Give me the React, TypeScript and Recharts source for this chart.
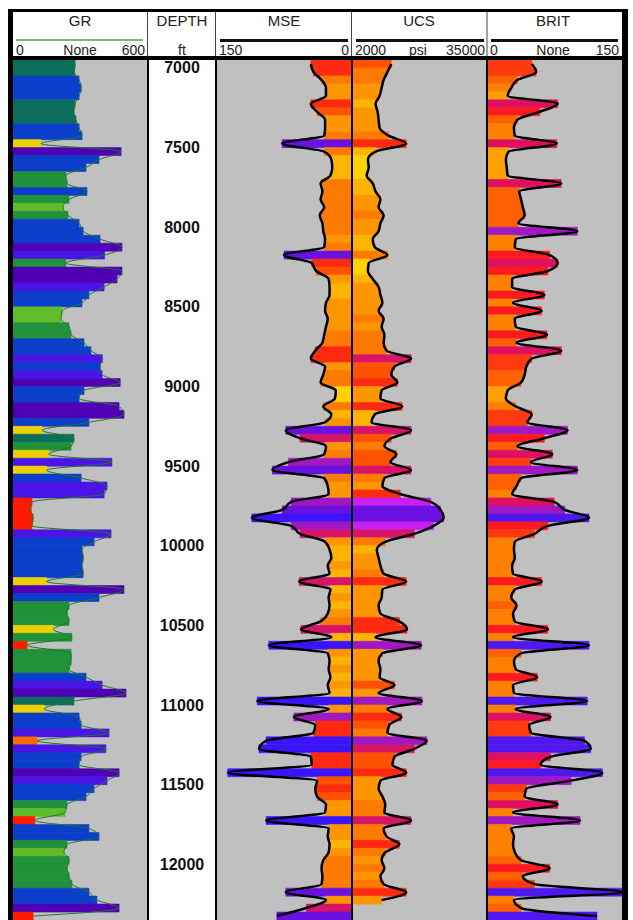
import { Bar, Cell, ComposedChart, Line, LineChart, XAxis, YAxis } from "recharts";

// depth rows (top of each 50 ft sample)
const ROW_DEPTHS = [
  6950, 7000, 7050, 7100, 7150, 7200, 7250, 7300, 7350, 7400,
  7450, 7500, 7550, 7600, 7650, 7700, 7750, 7800, 7850, 7900,
  7950, 8000, 8050, 8100, 8150, 8200, 8250, 8300, 8350, 8400,
  8450, 8500, 8550, 8600, 8650, 8700, 8750, 8800, 8850, 8900,
  8950, 9000, 9050, 9100, 9150, 9200, 9250, 9300, 9350, 9400,
  9450, 9500, 9550, 9600, 9650, 9700, 9750, 9800, 9850, 9900,
  9950, 10000, 10050, 10100, 10150, 10200, 10250, 10300, 10350, 10400,
  10450, 10500, 10550, 10600, 10650, 10700, 10750, 10800, 10850, 10900,
  10950, 11000, 11050, 11100, 11150, 11200, 11250, 11300, 11350, 11400,
  11450, 11500, 11550, 11600, 11650, 11700, 11750, 11800, 11850, 11900,
  11950, 12000, 12050, 12100, 12150, 12200, 12250, 12300,
];

const GR = [
  278, 275, 296, 305, 296, 278, 273, 282, 296, 309,
  125, 484, 385, 327, 237, 242, 331, 251, 224, 246,
  296, 314, 390, 488, 410, 237, 488, 466, 408, 340,
  309, 220, 215, 251, 260, 318, 349, 400, 390, 399,
  480, 318, 296, 475, 497, 340, 130, 273, 260, 160,
  443, 150, 305, 421, 408, 85, 80, 90, 85, 439,
  363, 309, 314, 309, 314, 150, 497, 385, 251, 242,
  251, 180, 264, 63, 260, 260, 251, 327, 399, 506,
  273, 140, 296, 305, 430, 108, 416, 305, 296, 475,
  421, 363, 327, 242, 233, 98, 340, 385, 242, 228,
  251, 242, 251, 264, 340, 376, 475, 90,
];

const MSE = [
  45, 42, 33, 28, 28, 45, 38, 29, 29, 30,
  77, 30, 22, 21, 23, 34, 32, 34, 30, 35,
  32, 31, 29, 30, 75, 44, 39, 25, 24, 24,
  28, 29, 26, 28, 30, 32, 40, 45, 29, 31,
  34, 17, 18, 31, 22, 29, 73, 57, 28, 30,
  70, 88, 30, 26, 25, 67, 77, 111, 67, 57,
  29, 24, 22, 26, 24, 58, 23, 25, 24, 26,
  34, 56, 22, 92, 26, 24, 25, 23, 26, 24,
  105, 25, 64, 40, 42, 95, 103, 45, 44, 138,
  38, 40, 38, 28, 29, 95, 25, 26, 24, 25,
  31, 33, 32, 33, 73, 28, 50, 83,
];

const UCS = [
  11500, 10550, 9600, 9100, 8600, 7600, 8100, 8350, 8600, 10800,
  15200, 7600, 5700, 5900, 5400, 6900, 7600, 8800, 8350, 9600,
  8800, 8350, 6900, 7400, 10550, 5900, 5700, 6900, 8350, 8800,
  9300, 8350, 9600, 9100, 9800, 9600, 10300, 16400, 12300, 11500,
  13000, 9100, 8800, 14200, 7400, 6600, 16400, 11500, 9800, 12750,
  11300, 16400, 9800, 9300, 13700, 21300, 23700, 24500, 22000, 17200,
  10000, 7900, 8350, 8800, 9600, 15200, 9300, 9100, 8350, 8800,
  13500, 15400, 7600, 18900, 9300, 8350, 8800, 8600, 12300, 8350,
  19100, 10550, 14000, 11000, 10550, 20300, 17200, 12300, 11800, 15200,
  8800, 8350, 9300, 10000, 9800, 16400, 9600, 10300, 13500, 10000,
  9100, 9800, 8800, 9600, 15200, 9100, null, null,
];

const BRIT = [
  49, 54, 33, 26, 22, 78, 58, 33, 29, 30,
  77, 23, 20, 21, 22, 82, 35, 37, 39, 41,
  34, 100, 31, 30, 69, 78, 67, 27, 27, 63,
  28, 60, 30, 31, 66, 32, 82, 49, 43, 41,
  37, 22, 20, 31, 49, 44, 89, 63, 33, 72,
  48, 100, 37, 32, 27, 74, 86, 113, 67, 52,
  30, 29, 30, 27, 28, 60, 30, 26, 32, 28,
  30, 67, 28, 113, 37, 29, 31, 55, 28, 29,
  111, 31, 70, 46, 48, 108, 115, 70, 59, 128,
  93, 43, 41, 78, 28, 103, 26, 29, 28, 30,
  37, 69, 39, 52, 150, 29, 37, 122,
];

const DEPTH_TICKS = [7000, 7500, 8000, 8500, 9000, 9500, 10000, 10500, 11000, 11500, 12000];

const rows = ROW_DEPTHS.map((depth, i) => ({
  depth,
  gr: GR[i],
  mse: MSE[i],
  ucs: UCS[i],
  brit: BRIT[i],
}));

const PLOT_TOP = 60;
const PLOT_H = 860;
const GRAY = "#c0c0c0";
const FONT = "'Liberation Sans Narrow', 'Liberation Sans', Arial, sans-serif";

function grColor(v: number | null) {
  if (v == null) return "none";
  if (v < 100) return "#ff1a00";
  if (v < 120) return "#ff6a00";
  if (v < 195) return "#ecd000";
  if (v < 235) return "#62bb2a";
  if (v < 266) return "#21913a";
  if (v < 292) return "#0b6e5c";
  if (v < 398) return "#0c3ecc";
  if (v < 455) return "#4a14e6";
  return "#5000b4";
}

function mseColor(v: number | null) {
  if (v == null) return "none";
  if (v < 20) return "#ffd200";
  if (v < 25) return "#ffb400";
  if (v < 30) return "#ff9600";
  if (v < 36) return "#ff7a00";
  if (v < 40) return "#ff5200";
  if (v < 50) return "#ff2a10";
  if (v < 60) return "#d8146a";
  if (v < 72) return "#a018c0";
  if (v < 90) return "#6a10e0";
  return "#3a14ff";
}

function ucsColor(v: number | null) {
  if (v == null) return "none";
  if (v < 6500) return "#ffd200";
  if (v < 8000) return "#ffb400";
  if (v < 9500) return "#ff9600";
  if (v < 11000) return "#ff7a00";
  if (v < 13000) return "#ff5200";
  if (v < 16000) return "#ff2a10";
  if (v < 18500) return "#d8146a";
  if (v < 21000) return "#a018c0";
  if (v < 23000) return "#c820f0";
  return "#6a10e0";
}

function britColor(v: number | null) {
  if (v == null) return "none";
  if (v < 24) return "#ffa000";
  if (v < 32) return "#ff8000";
  if (v < 42) return "#ff6000";
  if (v < 55) return "#ff3a10";
  if (v < 70) return "#ff1a20";
  if (v < 85) return "#e01060";
  if (v < 105) return "#a018c0";
  return "#5018f0";
}

type TrackProps = {
  left: number;
  width: number;
  dataKey: "gr" | "mse" | "ucs" | "brit";
  domain: [number, number];
  reversed?: boolean;
  colorOf: (v: number | null) => string;
  stroke: string;
  strokeWidth: number;
};

function Track({ left, width, dataKey, domain, reversed, colorOf, stroke, strokeWidth }: TrackProps) {
  return (
    <div style={{ position: "absolute", left, top: PLOT_TOP, width, height: PLOT_H, background: GRAY }}>
      <ComposedChart
        width={width}
        height={PLOT_H}
        data={rows}
        layout="vertical"
        margin={{ top: 0, right: 0, bottom: 0, left: 0 }}
        barCategoryGap={0}
        barGap={0}
      >
        <XAxis type="number" domain={domain} reversed={reversed} hide allowDataOverflow />
        <YAxis type="category" dataKey="depth" hide />
        <Bar dataKey={dataKey} isAnimationActive={false}>
          {rows.map((r, i) => (
            <Cell key={i} fill={colorOf(r[dataKey])} stroke={colorOf(r[dataKey])} strokeWidth={0.6} />
          ))}
        </Bar>
        <Line
          type="monotone"
          dataKey={dataKey}
          stroke={stroke}
          strokeWidth={strokeWidth}
          dot={false}
          activeDot={false}
          isAnimationActive={false}
        />
      </ComposedChart>
    </div>
  );
}

function DepthTick(props: any) {
  const { y, payload } = props;
  return (
    <text
      x={33}
      y={y}
      textAnchor="middle"
      dominantBaseline="central"
      fontFamily="'Liberation Sans', Arial, sans-serif"
      fontWeight="bold"
      fontSize={16}
      fill="#111"
    >
      {payload.value}
    </text>
  );
}

function DepthTrack() {
  return (
    <div style={{ position: "absolute", left: 149, top: PLOT_TOP, width: 66, height: PLOT_H, background: "#fff" }}>
      <LineChart
        width={66}
        height={PLOT_H}
        data={[{ d: ROW_DEPTHS[0] }, { d: 12350 }]}
        margin={{ top: 0, right: 0, bottom: 0, left: 0 }}
      >
        <XAxis hide />
        <YAxis
          type="number"
          domain={[6950, 12350]}
          reversed
          allowDataOverflow
          ticks={DEPTH_TICKS}
          interval={0}
          mirror
          axisLine={false}
          tickLine={false}
          tick={DepthTick}
        />
        <Line dataKey="d" stroke="none" dot={false} isAnimationActive={false} />
      </LineChart>
    </div>
  );
}

function Header() {
  const t = { fontFamily: FONT, fontSize: 15, fill: "#222" } as const;
  const s = { fontFamily: FONT, fontSize: 14, fill: "#222" } as const;
  return (
    <svg width={633} height={62} style={{ position: "absolute", left: 0, top: 0 }}>
      <rect x={8} y={9} width={620} height={3} fill="#000" />
      {[147.5, 215.5, 351.5, 487].map((x) => (
        <line key={x} x1={x} x2={x} y1={12} y2={56} stroke="#444" strokeWidth={1} />
      ))}
      <text x={80} y={20} textAnchor="middle" dominantBaseline="central" {...t}>GR</text>
      <line x1={16} x2={143} y1={40} y2={40} stroke="#49a84a" strokeWidth={1.5} />
      <text x={16} y={50} dominantBaseline="central" {...s}>0</text>
      <text x={80} y={50} textAnchor="middle" dominantBaseline="central" {...s}>None</text>
      <text x={145} y={50} textAnchor="end" dominantBaseline="central" {...s}>600</text>

      <text x={182} y={20} textAnchor="middle" dominantBaseline="central" {...t}>DEPTH</text>
      <text x={182} y={50} textAnchor="middle" dominantBaseline="central" {...s}>ft</text>

      <text x={284} y={20} textAnchor="middle" dominantBaseline="central" {...t}>MSE</text>
      <rect x={220} y={39} width={128} height={3} fill="#111" />
      <text x={219} y={50} dominantBaseline="central" {...s}>150</text>
      <text x={349} y={50} textAnchor="end" dominantBaseline="central" {...s}>0</text>

      <text x={419} y={20} textAnchor="middle" dominantBaseline="central" {...t}>UCS</text>
      <rect x={356} y={39} width={128} height={3} fill="#111" />
      <text x={355} y={50} dominantBaseline="central" {...s}>2000</text>
      <text x={418} y={50} textAnchor="middle" dominantBaseline="central" {...s}>psi</text>
      <text x={485} y={50} textAnchor="end" dominantBaseline="central" {...s}>35000</text>

      <text x={553} y={20} textAnchor="middle" dominantBaseline="central" {...t}>BRIT</text>
      <rect x={491} y={39} width={127} height={3} fill="#111" />
      <text x={490} y={50} dominantBaseline="central" {...s}>0</text>
      <text x={553} y={50} textAnchor="middle" dominantBaseline="central" {...s}>None</text>
      <text x={619} y={50} textAnchor="end" dominantBaseline="central" {...s}>150</text>

      <rect x={8} y={56} width={620} height={4} fill="#000" />
    </svg>
  );
}

export default function App() {
  const vline = (left: number, width: number) => (
    <div style={{ position: "absolute", left, top: PLOT_TOP, width, height: PLOT_H, background: "#000" }} />
  );
  return (
    <div style={{ position: "absolute", left: 0, top: 0, width: 633, height: 920, background: "#fff", overflow: "hidden" }}>
      <Header />
      <Track left={13} width={134} dataKey="gr" domain={[0, 600]} colorOf={grColor} stroke="#1f7a1f" strokeWidth={1} />
      {vline(147, 2)}
      <DepthTrack />
      {vline(215, 2)}
      <Track left={217} width={134} dataKey="mse" domain={[0, 150]} reversed colorOf={mseColor} stroke="#000" strokeWidth={2.5} />
      {vline(351, 2)}
      <Track left={353} width={133} dataKey="ucs" domain={[2000, 35000]} colorOf={ucsColor} stroke="#000" strokeWidth={2.5} />
      {vline(486, 2)}
      <Track left={488} width={134} dataKey="brit" domain={[0, 150]} colorOf={britColor} stroke="#000" strokeWidth={2.5} />
      <div style={{ position: "absolute", left: 8, top: 9, width: 5, height: 911, background: "#000" }} />
      <div style={{ position: "absolute", left: 622, top: 9, width: 6, height: 911, background: "#000" }} />
    </div>
  );
}
